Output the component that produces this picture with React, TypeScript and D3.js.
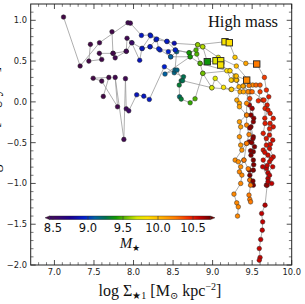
import React from 'react';
import * as d3 from 'd3';

type P = [number, number, number]; // [log Sigma1, y value, log M*]

const trackA: P[] = [
  [7.115, 1.04, 8.4], [7.325, 0.44, 8.4], [7.57, 0.725, 8.42], [7.93, 0.97, 8.45], [7.96, 0.965, 8.45],
  [8.10, 0.815, 8.9], [8.21, 0.82, 8.92], [8.425, 0.74, 8.92], [8.515, 0.718, 8.85], [8.81, 0.70, 9.55],
  [9.157, 0.737, 9.82], [9.211, 0.725, 9.85], [9.283, 0.546, 9.95], [9.42, 0.472, 10.1], [9.558, 0.464, 10.25],
  [9.655, 0.30, 10.4], [9.68, 0.145, 10.45], [9.71, 0.063, 10.5], [9.69, -0.039, 10.5], [9.727, -0.141, 10.5],
  [9.767, -0.202, 10.5], [9.726, -0.264, 10.5], [9.767, -0.306, 10.52], [9.72, -0.407, 10.52], [9.76, -0.469, 10.55],
  [9.72, -0.571, 10.55], [9.767, -0.674, 10.55], [9.72, -0.735, 10.55], [9.76, -0.796, 10.58], [9.70, -0.87, 10.58],
  [9.747, -1.0, 10.6],
];

const trackB: P[] = [
  [7.455, 0.705, 8.4], [7.435, 0.50, 8.4], [7.598, 0.52, 8.42], [7.568, 0.595, 8.42], [7.743, 0.595, 8.44],
  [7.768, 0.54, 8.44], [7.908, 0.62, 8.46], [7.918, 0.78, 8.46], [7.98, 0.725, 8.85], [8.11, 0.655, 8.88],
  [8.21, 0.676, 8.9], [8.335, 0.636, 8.92], [8.528, 0.636, 8.95], [8.707, 0.602, 9.45], [8.876, 0.676, 9.65],
  [8.933, 0.492, 9.38], [9.043, 0.504, 9.72], [9.102, 0.504, 9.78], [9.102, 0.452, 9.82], [9.213, 0.382, 9.95],
  [9.285, 0.317, 10.0], [9.243, 0.267, 10.0], [9.306, 0.267, 10.05], [9.347, 0.124, 10.08], [9.306, 0.022, 10.08],
  [9.339, -0.018, 10.1], [9.339, -0.06, 10.1], [9.43, -0.162, 10.12], [9.339, -0.244, 10.12], [9.355, -0.306, 10.12],
  [9.339, -0.428, 10.15], [9.355, -0.53, 10.15], [9.43, -0.509, 10.15], [9.37, -0.591, 10.15], [9.285, -0.714, 10.18],
  [9.325, -0.735, 10.18], [9.395, -0.714, 10.18], [9.355, -0.796, 10.18], [9.339, -0.858, 10.2], [9.37, -0.898, 10.2],
  [9.355, -1.0, 10.2], [9.27, -1.131, 10.2], [9.305, -1.238, 10.2], [9.325, -1.287, 10.2], [9.315, -1.40, 10.2],
];

const trackC: P[] = [
  [7.618, 0.067, 8.4], [7.688, 0.30, 8.4], [7.49, 0.29, 8.4], [7.598, 0.255, 8.42], [7.798, -0.06, 8.42],
  [7.768, 0.30, 8.44], [7.878, -0.46, 8.45], [7.898, 0.285, 8.46], [7.908, -0.085, 8.5], [7.94, -0.11, 8.55],
  [8.04, 0.087, 8.88], [8.13, 0.07, 8.9], [8.20, 0.03, 8.92], [8.39, 0.431, 8.95], [8.515, 0.357, 9.15],
  [8.632, 0.308, 9.25], [8.603, 0.259, 9.25], [8.578, 0.206, 9.3], [8.582, 0.063, 9.2], [8.603, 0.034, 9.3],
  [8.716, -0.011, 9.45], [8.778, 0.038, 9.5], [8.876, 0.35, 9.6], [8.99, 0.173, 9.68], [9.033, 0.288, 9.72],
  [9.138, 0.178, 9.82], [9.234, 0.153, 9.92], [9.39, 0.194, 10.1], [9.473, 0.124, 10.3], [9.465, -0.039, 10.65],
  [9.485, -0.162, 10.7], [9.515, -0.244, 10.7], [9.485, -0.306, 10.7], [9.515, -0.428, 10.7], [9.465, -0.49, 10.7],
  [9.495, -0.50, 10.7], [9.515, -0.612, 10.72], [9.485, -0.653, 10.72], [9.515, -0.714, 10.72], [9.465, -0.837, 10.72],
  [9.515, -0.837, 10.72], [9.473, -0.959, 10.72], [9.515, -1.021, 10.72],
];

const trackD: P[] = [
  [8.44, 0.615, 8.95], [8.47, 0.553, 9.1], [8.546, 0.615, 9.15], [8.524, 0.39, 9.15], [8.398, 0.341, 9.1],
  [8.716, 0.553, 9.45], [8.80, 0.586, 9.5], [8.842, 0.472, 9.5], [9.18, 0.382, 9.85], [9.234, 0.267, 9.92],
  [9.30, 0.267, 10.0], [9.334, 0.185, 10.05], [9.385, 0.194, 10.1], [9.448, 0.124, 10.2], [9.43, -0.018, 10.2],
  [9.43, -0.162, 10.22], [9.43, -0.285, 10.22], [9.46, -0.40, 10.22], [9.43, -0.509, 10.25], [9.397, -0.714, 10.25],
  [9.45, -0.82, 10.25], [9.47, -0.959, 10.25], [9.48, -1.021, 10.25], [9.46, -1.143, 10.25], [9.47, -1.196, 10.25],
  [9.48, -1.226, 10.25],
];

const trackE: P[] = [
  [8.208, 0.676, 8.9], [8.284, 0.762, 8.9], [8.42, 0.742, 8.92], [8.53, 0.636, 8.95], [8.70, 0.602, 9.4],
  [8.79, 0.636, 9.5], [8.812, 0.70, 9.6], [8.874, 0.676, 9.65], [9.072, 0.546, 9.75], [9.30, 0.439, 10.0],
  [9.507, 0.206, 10.2], [9.549, 0.206, 10.3], [9.60, 0.206, 10.35], [9.60, 0.124, 10.4], [9.578, 0.013, 10.45],
  [9.634, 0.022, 10.45], [9.663, -0.08, 10.48], [9.663, -0.264, 10.5], [9.64, -0.386, 10.5], [9.68, -0.53, 10.52],
  [9.64, -0.591, 10.52], [9.70, -0.653, 10.55], [9.64, -0.714, 10.55], [9.68, -0.816, 10.6], [9.633, -0.796, 10.6],
  [9.70, -0.939, 10.62], [9.68, -1.021, 10.65], [9.69, -1.021, 10.68], [9.663, -1.266, 10.62], [9.62, -1.368, 10.6],
  [9.633, -1.471, 10.6], [9.628, -1.573, 10.6], [9.608, -1.687, 10.6], [9.59, -1.798, 10.58], [9.60, -1.908, 10.58],
  [9.59, -1.941, 10.58],
];

const trackF: P[] = [
  [7.728, 0.86, 8.42], [7.74, 0.595, 8.42], [7.909, 0.62, 8.46], [7.977, 0.725, 8.55], [8.078, 0.51, 8.88],
  [8.107, 0.655, 8.9], [8.217, 0.81, 8.92], [8.293, 0.77, 8.92], [8.318, 0.65, 8.95], [8.47, 0.553, 9.1],
  [8.716, 0.553, 9.4], [8.842, 0.472, 9.5], [8.876, 0.35, 9.55], [9.22, 0.382, 9.9], [9.30, 0.317, 10.0],
  [9.431, 0.267, 10.2], [9.46, 0.20, 10.25], [9.50, 0.124, 10.3], [9.65, 0.022, 10.45], [9.70, -0.10, 10.5],
  [9.66, -0.20, 10.5], [9.72, -0.33, 10.5], [9.68, -0.45, 10.52], [9.73, -0.52, 10.55], [9.66, -0.62, 10.55],
  [9.74, -0.70, 10.55], [9.69, -0.78, 10.58], [9.72, -0.90, 10.6], [9.70, -0.98, 10.62],
];

const trackG: P[] = [
  [8.55, 0.39, 9.15], [8.62, 0.26, 9.25], [8.99, 0.173, 9.7], [9.24, 0.153, 9.95], [9.39, 0.124, 10.1],
  [9.47, 0.04, 10.4], [9.50, -0.08, 10.65], [9.52, -0.20, 10.7], [9.47, -0.32, 10.7], [9.51, -0.45, 10.7],
  [9.53, -0.55, 10.72], [9.48, -0.60, 10.72], [9.52, -0.77, 10.72], [9.47, -0.90, 10.72], [9.51, -0.97, 10.72],
];

const tracks: P[][] = [trackA, trackB, trackC, trackD, trackE, trackF, trackG];

const snapshotSquares: P[] = [
  [8.933, 0.492, 9.38], [9.043, 0.504, 9.72], [9.102, 0.504, 9.78], [9.102, 0.452, 9.82],
  [9.157, 0.737, 9.82], [9.211, 0.725, 9.85], [9.558, 0.464, 10.25], [9.431, 0.267, 10.2],
];

const xTicks = [7.0, 7.5, 8.0, 8.5, 9.0, 9.5, 10.0];
const yTicks = [1.0, 0.5, 0.0, -0.5, -1.0, -1.5, -2.0];
const cbTicks = [8.5, 9.0, 9.5, 10.0, 10.5];
const massStops: [number, string][] = [
  [8.40, '#430846'], [8.55, '#3c0866'], [8.75, '#1a0090'], [8.95, '#0020d0'], [9.10, '#0060a0'],
  [9.25, '#007050'], [9.40, '#109a00'], [9.55, '#70c000'], [9.70, '#d8e800'], [9.85, '#ffe000'],
  [10.05, '#ffb000'], [10.25, '#ff7a00'], [10.45, '#f02800'], [10.60, '#c00000'], [10.75, '#700000'],
];

const W = 305, H = 304;
const L = 30.7, R = 291.7, T = 4, B = 265;

export default function App() {
  const x = d3.scaleLinear().domain([6.7, 10]).range([L, R]);
  const y = d3.scaleLinear().domain([-2, 1.2]).range([B, T]);
  const color = d3.scaleLinear<string>()
    .domain(massStops.map(d => d[0]))
    .range(massStops.map(d => d[1]))
    .interpolate(d3.interpolateRgb)
    .clamp(true);
  const line = d3.line<P>().x(d => x(d[0])).y(d => y(d[1]));

  const xMinor = d3.range(68, 100).map(i => i / 10).filter(v => Math.abs(v * 2 - Math.round(v * 2)) > 1e-6);
  const yMinor = d3.range(-19, 12).map(i => i / 10).filter(v => Math.abs(v * 2 - Math.round(v * 2)) > 1e-6);

  const cb = d3.scaleLinear().domain([8.45, 10.75]).range([49.5, 210.5]);
  const cbY0 = 216, cbY1 = 219.6, cbMid = (cbY0 + cbY1) / 2;
  const tickFont = "'DejaVu Sans', sans-serif";
  const serif = "'Liberation Serif', 'DejaVu Serif', serif";

  return (
    <svg width={W} height={H} style={{ position: 'absolute', left: 0, top: 0, background: '#fff' }}>
      <defs>
        <linearGradient id="cbgrad" x1="0" x2="1" y1="0" y2="0">
          {massStops.filter(s => s[0] >= 8.45).map((s, i) => (
            <stop key={i} offset={(s[0] - 8.45) / (10.75 - 8.45)} stopColor={s[1]} />
          ))}
        </linearGradient>
        <clipPath id="plotclip"><rect x={L} y={T} width={R - L} height={B - T} /></clipPath>
      </defs>

      <g clipPath="url(#plotclip)">
        {tracks.map((t, i) => (
          <path key={'l' + i} d={line(t) || ''} fill="none" stroke="#9a9a9a" strokeWidth={0.8} />
        ))}
        {tracks.map((t, i) => (
          <g key={'p' + i}>
            {t.map((d, j) => (
              <circle key={j} cx={x(d[0])} cy={y(d[1])} r={2.3} fill={color(d[2])} stroke="#2a2a2a" strokeWidth={0.5} />
            ))}
          </g>
        ))}
        {snapshotSquares.map((d, j) => (
          <rect key={'s' + j} x={x(d[0]) - 3.2} y={y(d[1]) - 3.2} width={6.4} height={6.4}
            fill={color(d[2])} stroke="#222" strokeWidth={0.9} />
        ))}
      </g>

      <rect x={L} y={T} width={R - L} height={B - T} fill="none" stroke="#222" strokeWidth={1} />

      {xTicks.map(v => (
        <g key={'xt' + v}>
          <line x1={x(v)} x2={x(v)} y1={B} y2={B - 5} stroke="#222" strokeWidth={0.8} />
          <line x1={x(v)} x2={x(v)} y1={T} y2={T + 5} stroke="#222" strokeWidth={0.8} />
          <text x={x(v)} y={274.5} fontSize={8.3} fontFamily={tickFont} textAnchor="middle" fill="#222">{v.toFixed(1)}</text>
        </g>
      ))}
      {xMinor.map(v => (
        <g key={'xm' + v}>
          <line x1={x(v)} x2={x(v)} y1={B} y2={B - 2.8} stroke="#222" strokeWidth={0.6} />
          <line x1={x(v)} x2={x(v)} y1={T} y2={T + 2.8} stroke="#222" strokeWidth={0.6} />
        </g>
      ))}

      {yTicks.map(v => (
        <g key={'yt' + v}>
          <line x1={L} x2={L + 5} y1={y(v)} y2={y(v)} stroke="#222" strokeWidth={0.8} />
          <line x1={R} x2={R - 5} y1={y(v)} y2={y(v)} stroke="#222" strokeWidth={0.8} />
          <text x={27} y={y(v) + 3} fontSize={8.3} fontFamily={tickFont} textAnchor="end" fill="#222">
            {v < 0 ? '\u2212' + Math.abs(v).toFixed(1) : v.toFixed(1)}
          </text>
        </g>
      ))}
      {yMinor.map(v => (
        <g key={'ym' + v}>
          <line x1={L} x2={L + 2.8} y1={y(v)} y2={y(v)} stroke="#222" strokeWidth={0.6} />
          <line x1={R} x2={R - 2.8} y1={y(v)} y2={y(v)} stroke="#222" strokeWidth={0.6} />
        </g>
      ))}

      <polygon points={`${cb(8.45)},${cbY0} ${cb(8.45) - 4.5},${cbMid} ${cb(8.45)},${cbY1}`} fill={color(8.4)} stroke="#222" strokeWidth={0.4} />
      <polygon points={`${cb(10.75)},${cbY0} ${cb(10.75) + 4.5},${cbMid} ${cb(10.75)},${cbY1}`} fill={color(10.75)} stroke="#222" strokeWidth={0.4} />
      <rect x={cb(8.45)} y={cbY0} width={cb(10.75) - cb(8.45)} height={cbY1 - cbY0} fill="url(#cbgrad)" stroke="#222" strokeWidth={0.4} />
      {cbTicks.map(v => (
        <g key={'cb' + v}>
          <line x1={cb(v)} x2={cb(v)} y1={cbY0} y2={cbY1} stroke="#333" strokeWidth={0.6} />
          <text x={cb(v)} y={231.8} fontSize={11.5} fontFamily={tickFont} textAnchor="middle" fill="#111">{v.toFixed(1)}</text>
        </g>
      ))}
      <text x={130} y={248} fontSize={15} fontFamily={serif} textAnchor="middle" fill="#111">
        <tspan fontStyle="italic">M</tspan>
        <tspan fontSize={9} dy={3}>{'\u2605'}</tspan>
      </text>

      <text x={278} y={26.7} fontSize={16.5} fontFamily={serif} textAnchor="end" fill="#111">High mass</text>
      <text x={160} y={295.5} fontSize={16} fontFamily={serif} textAnchor="middle" fill="#111">
        <tspan>log Σ</tspan>
        <tspan fontSize={10} dy={3}>{'\u2605'}1</tspan>
        <tspan dy={-3}> [M</tspan>
        <tspan fontSize={10} dy={3}>{'\u2299'}</tspan>
        <tspan dy={-3}> kpc</tspan>
        <tspan fontSize={10} dy={-6}>{'\u2212'}2</tspan>
        <tspan dy={6}>]</tspan>
      </text>
      <text transform={`translate(-1.5,185) rotate(-90)`} fontSize={16} fontFamily={serif} textAnchor="start" fill="#111">
        log SFR [M<tspan fontSize={10} dy={3}>{'\u2299'}</tspan><tspan dy={-3}> yr</tspan><tspan fontSize={10} dy={-6}>{'\u2212'}1</tspan><tspan dy={6}>]</tspan>
      </text>
    </svg>
  );
}
